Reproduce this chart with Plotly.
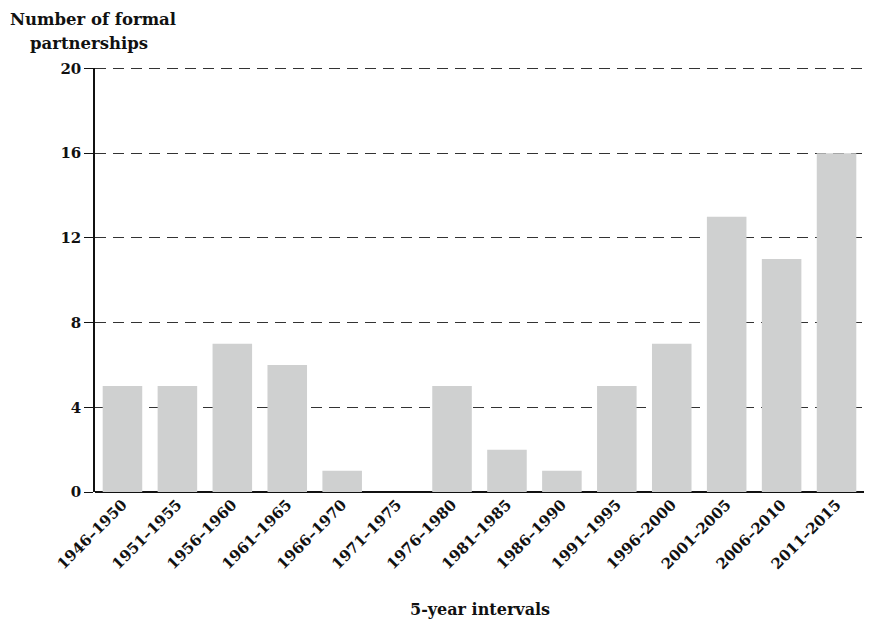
import plotly.graph_objects as go

categories = ["1946–1950", "1951–1955", "1956–1960", "1961–1965", "1966–1970",
              "1971–1975", "1976–1980", "1981–1985", "1986–1990", "1991–1995",
              "1996–2000", "2001–2005", "2006–2010", "2011–2015"]
values = [5, 5, 7, 6, 1, 0, 5, 2, 1, 5, 7, 13, 11, 16]
y_ticks = [0, 4, 8, 12, 16, 20]

font_family = "DejaVu Serif, Liberation Serif, serif"
ink = "#111111"

fig = go.Figure(go.Bar(
    x=categories, y=values,
    marker=dict(color="#cfd0d0", line=dict(width=0)),
    hoverinfo="x+y",
))

fig.update_layout(
    width=856, height=616,
    margin=dict(l=87, r=0, t=60, b=132),
    paper_bgcolor="white", plot_bgcolor="white",
    bargap=0.28,
    showlegend=False,
    font=dict(family=font_family, size=14, color=ink),
    annotations=[
        dict(text="<b>Number of formal</b>", xref="paper", yref="paper",
             x=-0.002, y=1.0, yshift=37, xanchor="center", yanchor="bottom",
             showarrow=False, font=dict(family=font_family, size=16.5, color=ink)),
        dict(text="<b>partnerships</b>", xref="paper", yref="paper",
             x=-0.008, y=1.0, yshift=13, xanchor="center", yanchor="bottom",
             showarrow=False, font=dict(family=font_family, size=16.5, color=ink)),
        dict(text="<b>5-year intervals</b>", xref="paper", yref="paper",
             x=0.5, y=0.0, yshift=-117, xanchor="center", yanchor="middle",
             showarrow=False, font=dict(family=font_family, size=16, color=ink)),
    ],
    shapes=[
        dict(type="line", xref="paper", yref="y", x0=0, x1=1, y0=y_ticks[-1], y1=y_ticks[-1],
             line=dict(color="#333333", width=1.3, dash="11px,7px"), layer="below"),
    ],
)

fig.update_xaxes(
    tickangle=-45, automargin=False,
    tickfont=dict(family=font_family, size=15, color=ink, weight="bold"),
    showgrid=False, showline=False, ticks="",
)

fig.update_yaxes(
    range=[0, 20.02], tickvals=y_ticks, automargin=False,
    tickfont=dict(family=font_family, size=15, color=ink, weight="bold"),
    showgrid=True, gridcolor="#333333", gridwidth=1.3, griddash="11px,7px",
    showline=True, linecolor=ink, linewidth=1.5,
    ticks="outside", ticklen=9, tickcolor=ink, tickwidth=1.3,
    zeroline=True, zerolinecolor=ink, zerolinewidth=1.5,
)

fig.write_html("out.html")
